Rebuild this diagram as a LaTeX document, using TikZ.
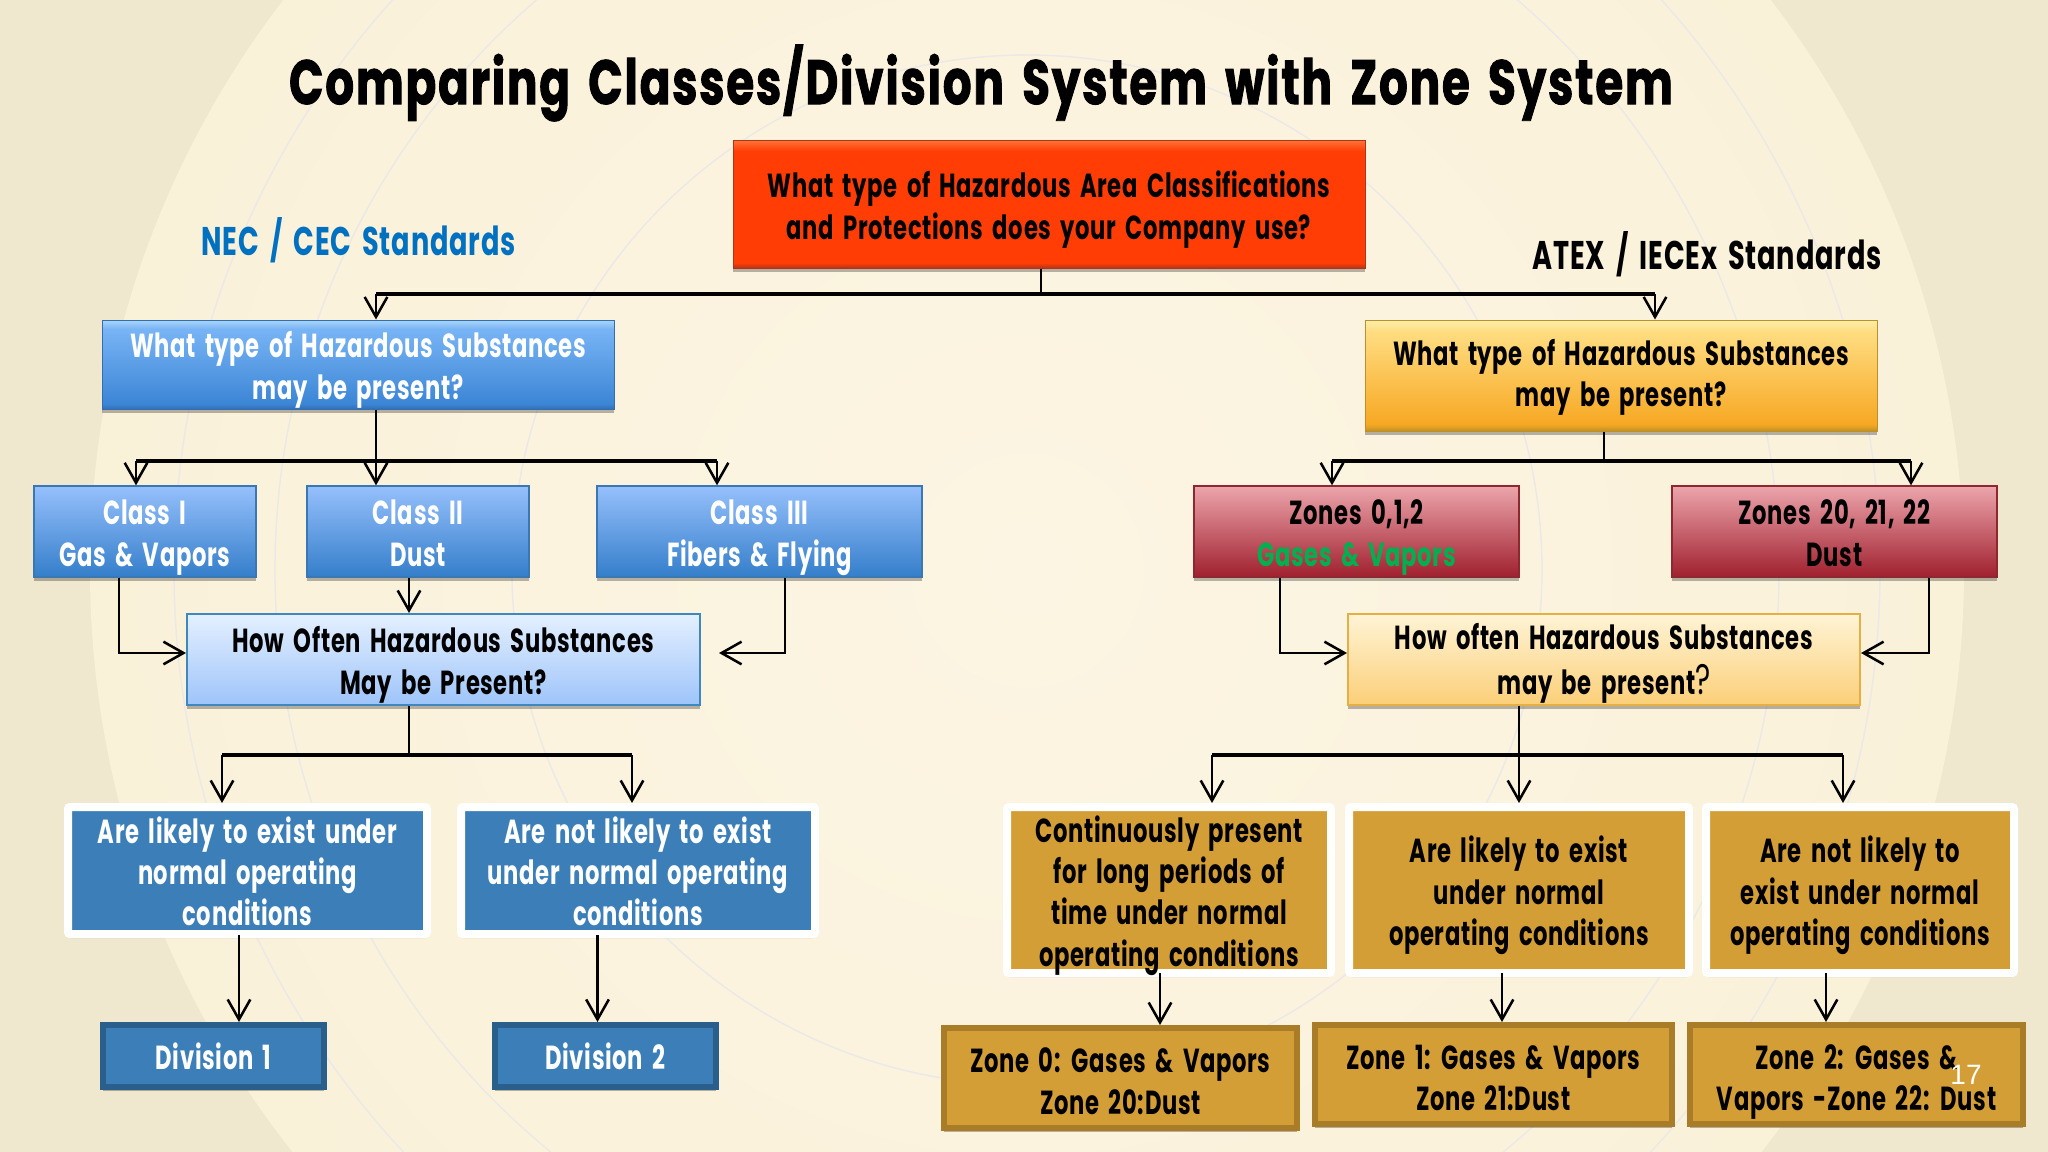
\documentclass[tikz,border=0pt]{standalone}
\usepackage{fontspec}
\usetikzlibrary{arrows.meta,shadows}
\newfontfamily\boxfont[FakeStretch=.68,LetterSpace=2,WordSpace=1.7]{Poppins}
\newfontfamily\titlefont[FakeStretch=.72,LetterSpace=3,WordSpace=1.6,FakeBold=1.4]{Poppins}
\newfontfamily\numfont{Liberation Sans}
\definecolor{pagetan}{RGB}{240,231,207}
\definecolor{pagecream}{RGB}{252,245,227}
\definecolor{pageedge}{RGB}{250,241,217}
\definecolor{ringblue}{RGB}{234,232,232}
\definecolor{necblue}{RGB}{0,112,192}
\definecolor{steelblue}{RGB}{60,127,184}
\definecolor{steeldark}{RGB}{42,95,140}
\definecolor{goldfill}{RGB}{212,158,55}
\definecolor{golddark}{RGB}{169,124,40}
\definecolor{zonegreen}{RGB}{0,176,80}

% bevelled fills, 25bp is the lower edge of a box and 75bp the upper
\definecolor{redA}{RGB}{178,52,24}\definecolor{redB}{RGB}{255,61,5}\definecolor{redC}{RGB}{255,112,52}
\pgfdeclareverticalshading{redbevel}{100bp}{color(0bp)=(redA); color(25bp)=(redA); color(27bp)=(redB); color(71bp)=(redB); color(75bp)=(redC); color(100bp)=(redC)}
\definecolor{bevA}{RGB}{50,110,180}\definecolor{bevB}{RGB}{60,134,214}\definecolor{bevC}{RGB}{120,180,245}\definecolor{bevD}{RGB}{170,215,250}
\pgfdeclareverticalshading{bluebevel}{100bp}{color(0bp)=(bevA); color(25bp)=(bevA); color(28bp)=(bevB); color(70bp)=(bevC); color(75bp)=(bevD); color(100bp)=(bevD)}
\definecolor{bevE}{RGB}{190,145,40}\definecolor{bevF}{RGB}{247,168,35}\definecolor{bevG}{RGB}{255,221,130}\definecolor{bevH}{RGB}{255,238,170}
\pgfdeclareverticalshading{yellowbevel}{100bp}{color(0bp)=(bevE); color(25bp)=(bevE); color(28bp)=(bevF); color(70bp)=(bevG); color(75bp)=(bevH); color(100bp)=(bevH)}

\tikzset{every picture/.style={line width=0.75pt},
  softshadow/.style={drop shadow={shadow xshift=0pt,shadow yshift=-3pt,opacity=.28,fill=black}},
  lineone/.style={text depth=0pt,text height=20.5pt},
  linetwo/.style={text depth=0pt,text height=52pt},
  linethree/.style={text depth=0pt,text height=83pt},
  linefour/.style={text depth=0pt,text height=114pt},
  flowbox/.style={rectangle,inner sep=0pt,align=center,softshadow,font=\boxfont\bfseries\fontsize{25}{31}\selectfont},
  redbox/.style={flowbox,linetwo,draw=redA,line width=.75pt,shading=redbevel,text=black},
  bluebox/.style={flowbox,linetwo,draw=bevA,shading=bluebevel,text=white},
  yellowbox/.style={flowbox,text depth=0pt,text height=46.6pt,draw=bevE,shading=yellowbevel,text=black},
  classbox/.style={flowbox,linetwo,draw={rgb,255:red,58;green,120;blue,180},line width=1pt,top color={rgb,255:red,150;green,192;blue,252},bottom color={rgb,255:red,52;green,126;blue,202},text=white},
  zonebox/.style={flowbox,linetwo,draw={rgb,255:red,142;green,39;blue,48},line width=1pt,top color={rgb,255:red,236;green,165;blue,172},bottom color={rgb,255:red,160;green,32;blue,46},text=black},
  hownecbox/.style={flowbox,linetwo,draw={rgb,255:red,63;green,136;blue,191},line width=1.5pt,top color={rgb,255:red,228;green,240;blue,255},bottom color={rgb,255:red,158;green,196;blue,250},text=black},
  howatexbox/.style={flowbox,text depth=0pt,text height=52.5pt,draw={rgb,255:red,230;green,175;blue,70},line width=1.5pt,top color={rgb,255:red,255;green,244;blue,214},bottom color={rgb,255:red,251;green,207;blue,120},text=black},
  framedblue/.style={flowbox,linethree,draw=white,line width=6pt,rounded corners=1.5pt,fill=steelblue,text=white},
  framedgold/.style={flowbox,linethree,draw=white,line width=6pt,rounded corners=1.5pt,fill=goldfill,text=black},
  divisionbox/.style={flowbox,lineone,draw=steeldark,line width=4.5pt,fill=steelblue,text=white,drop shadow={opacity=0}},
  zoneresult/.style={flowbox,text depth=0pt,text height=54.4pt,draw=golddark,line width=4.5pt,fill=goldfill,text=black,drop shadow={opacity=0}},
  arr/.style={line width=1.9pt,-{Straight Barb[length=15pt,width=17pt,line width=1.9pt]}},
  stem/.style={line width=1.9pt},
  bus/.style={line width=2.6pt},
  standardlabel/.style={inner sep=0pt,font=\boxfont\bfseries\fontsize{30}{34}\selectfont}}

\begin{document}
\begin{tikzpicture}[x=0.75pt,y=0.75pt,yscale=-1,xscale=1]
	\useasboundingbox (0,0) rectangle (2048,1152);

	% Background
	\fill [pagetan] (0,0) rectangle (2048,1152);
	\begin{scope}
		\clip (0,0) rectangle (2048,1152);
		\shade [inner color=pagecream,outer color=pageedge] (1027,570) circle [radius=937];
		\draw [ringblue,line width=1pt] (1027,570) circle [radius=853];
		\draw [ringblue,line width=1pt] (1027,570) circle [radius=752];
		\draw [ringblue,line width=1pt] (1027,570) circle [radius=515];
	\end{scope}

	% Text Node
	\node [inner sep=0pt,font=\titlefont\bfseries\fontsize{47}{56}\selectfont] (title) at (981,83) {Comparing Classes/Division System with Zone System};
	\node [standardlabel,text=necblue] (neclabel) at (358.5,240) {NEC / CEC Standards};
	\node [standardlabel] (atexlabel) at (1707,254) {ATEX / IECEx Standards};

	% Question boxes
	\node [redbox,minimum width=474pt,minimum height=95.25pt] (qtop) at (1049,204.5) {What type of Hazardous Area Classifications\\and Protections does your Company use?};
	\node [bluebox,minimum width=384pt,minimum height=66.75pt] (qnec) at (358,364.5) {What type of Hazardous Substances\\may be present?};
	\node [yellowbox,minimum width=384pt,minimum height=83.25pt] (qatex) at (1621,375.5) {What type of Hazardous Substances\\may be present?};

	% Class and zone boxes
	\node [classbox,minimum width=166.5pt,minimum height=68.25pt] (classone) at (145,531.5) {Class I\\Gas \& Vapors};
	\node [classbox,minimum width=166.5pt,minimum height=68.25pt] (classtwo) at (418,531.5) {Class II\\Dust};
	\node [classbox,minimum width=243.75pt,minimum height=68.25pt] (classthree) at (759.5,531.5) {Class III\\Fibers \& Flying};
	\node [zonebox,minimum width=243.75pt,minimum height=68.25pt] (zonesgas) at (1356.5,531.5) {Zones 0,1,2\\\textcolor{zonegreen}{Gases \& Vapors}};
	\node [zonebox,minimum width=243.75pt,minimum height=68.25pt] (zonesdust) at (1834.5,531.5) {Zones 20, 21, 22\\Dust};

	% How often boxes
	\node [hownecbox,minimum width=384.75pt,minimum height=68.25pt] (hownec) at (443.5,659.5) {How Often Hazardous Substances\\May be Present?};
	\node [howatexbox,minimum width=384pt,minimum height=68.25pt] (howatex) at (1604,659.5) {How often Hazardous Substances\\[3pt]may be present{\mdseries\fontsize{32}{31}\selectfont ?}};

	% Condition boxes
	\node [framedblue,minimum width=269.25pt,minimum height=95.25pt] (likelynec) at (247.5,870.5) {Are likely to exist under\\normal operating\\conditions};
	\node [framedblue,minimum width=265.5pt,minimum height=95.25pt] (notnec) at (638,870.5) {Are not likely to exist\\under normal operating\\conditions};
	\node [framedgold,linefour,minimum width=243pt,minimum height=124.5pt] (contatex) at (1169,890) {Continuously present\\for long periods of\\time under normal\\operating conditions};
	\node [framedgold,minimum width=255pt,minimum height=124.5pt] (likelyatex) at (1519,890) {Are likely to exist\\under normal\\operating conditions};
	\node [framedgold,minimum width=231pt,minimum height=124.5pt] (notatex) at (1860,890) {Are not likely to\\exist under normal\\operating conditions};

	% Result boxes
	\node [divisionbox,minimum width=165.75pt,minimum height=46.5pt] (divone) at (213.5,1056) {Division 1};
	\node [divisionbox,minimum width=165.75pt,minimum height=46.5pt] (divtwo) at (605.5,1056) {Division 2};
	\node [zoneresult,minimum width=264.75pt,minimum height=75pt] (zonezero) at (1120.5,1078) {Zone 0: Gases \& Vapors\\Zone 20:Dust};
	\node [zoneresult,minimum width=267.75pt,minimum height=74.25pt] (zoneone) at (1493.5,1074.5) {Zone 1: Gases \& Vapors\\Zone 21:Dust};
	\node [zoneresult,minimum width=249.75pt,minimum height=74.25pt] (zonetwo) at (1856.5,1074.5) {Zone 2: Gases \&\\Vapors -Zone 22: Dust};

	% Page number
	\node [inner sep=0pt,text=white,font=\numfont\fontsize{21}{24}\selectfont] (pagenum) at (1966,1075) {17};

	% Connector points
	\coordinate (topmid) at (1041,294);
	\coordinate (topleft) at (376,294);
	\coordinate (topright) at (1655,294);
	\coordinate (necmid) at (376,461);
	\coordinate (necleft) at (136,461);
	\coordinate (necright) at (717,461);
	\coordinate (atexmid) at (1604,461);
	\coordinate (atexleft) at (1332,461);
	\coordinate (atexright) at (1911,461);
	\coordinate (turnone) at (119,653);
	\coordinate (turntwo) at (409,653);
	\coordinate (turnthree) at (785,653);
	\coordinate (turngas) at (1280,653);
	\coordinate (turndust) at (1929,653);
	\coordinate (howmid) at (409,755);
	\coordinate (howleft) at (222,755);
	\coordinate (howright) at (632,755);
	\coordinate (howamid) at (1519,755);
	\coordinate (howaleft) at (1212,755);
	\coordinate (howaright) at (1843,755);
	\coordinate (downone) at (239,935);
	\coordinate (downtwo) at (597.5,935);
	\coordinate (downzero) at (1160,973);
	\coordinate (downzone) at (1502,973);
	\coordinate (downlast) at (1826,973);

	% Connectors
	\draw [stem] (qtop.south -| topmid) -- (topmid);
	\draw [bus] (topleft) -- (topright);
	\draw [arr] (topleft) -- (topleft |- qnec.north);
	\draw [arr] (topright) -- (topright |- qatex.north);

	\draw [stem] (qnec.south -| necmid) -- (necmid);
	\draw [bus] (necleft) -- (necright);
	\draw [arr] (necleft) -- (necleft |- classone.north);
	\draw [arr] (necmid) -- (necmid |- classtwo.north);
	\draw [arr] (necright) -- (necright |- classthree.north);

	\draw [stem] (qatex.south -| atexmid) -- (atexmid);
	\draw [bus] (atexleft) -- (atexright);
	\draw [arr] (atexleft) -- (atexleft |- zonesgas.north);
	\draw [arr] (atexright) -- (atexright |- zonesdust.north);

	\draw [arr] (classone.south -| turnone) -- (turnone) -- (turnone -| hownec.west);
	\draw [arr] (classtwo.south -| turntwo) -- (turntwo |- hownec.north);
	\draw [arr,shorten >=13.5pt] (classthree.south -| turnthree) -- (turnthree) -- (turnthree -| hownec.east);
	\draw [arr] (zonesgas.south -| turngas) -- (turngas) -- (turngas -| howatex.west);
	\draw [arr] (zonesdust.south -| turndust) -- (turndust) -- (turndust -| howatex.east);

	\draw [stem] (hownec.south -| howmid) -- (howmid);
	\draw [bus] (howleft) -- (howright);
	\draw [arr] (howleft) -- (howleft |- likelynec.north);
	\draw [arr] (howright) -- (howright |- notnec.north);

	\draw [stem] (howatex.south -| howamid) -- (howamid);
	\draw [bus] (howaleft) -- (howaright);
	\draw [arr] (howaleft) -- (howaleft |- contatex.north);
	\draw [arr] (howamid) -- (howamid |- likelyatex.north);
	\draw [arr] (howaright) -- (howaright |- notatex.north);

	\draw [arr] (downone) -- (downone |- divone.north);
	\draw [arr] (downtwo) -- (downtwo |- divtwo.north);
	\draw [arr] (downzero) -- (downzero |- zonezero.north);
	\draw [arr] (downzone) -- (downzone |- zoneone.north);
	\draw [arr] (downlast) -- (downlast |- zonetwo.north);
\end{tikzpicture}
\end{document}
